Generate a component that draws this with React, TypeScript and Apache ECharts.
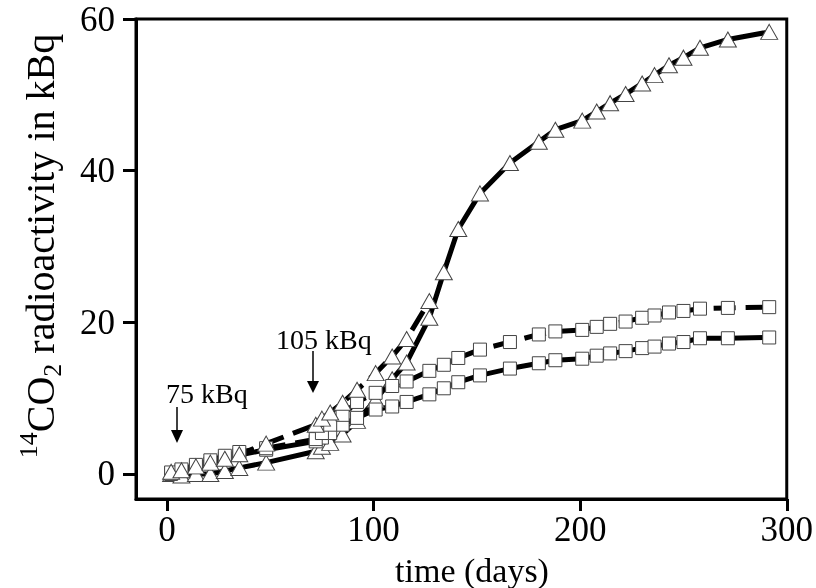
import React, { useEffect, useRef } from "react";
import * as echarts from "echarts";

// time (days) for square / solid-triangle series
const days = [
  2, 7, 14, 21, 28, 35, 48, 72, 75, 79, 85, 92, 101, 109, 116, 127, 134, 141, 151.5, 166, 180, 188, 201, 208,
  214.5, 222, 230, 236, 243, 250, 258, 271.5, 291.5,
];
// time (days) for dashed-triangle series
const daysT2 = [2, 7, 14, 21, 28, 35, 48, 72, 75, 79, 85, 92, 101, 109, 116, 127];

const squaresDashed = [
  0.2, 0.6, 1.2, 1.8, 2.4, 2.9, 3.4, 4.6, 5.4, 6.5, 7.8, 9.5, 10.7, 11.6, 12.2, 13.6, 14.4, 15.3, 16.4, 17.4, 18.4,
  18.8, 19.0, 19.4, 19.8, 20.1, 20.6, 20.9, 21.3, 21.5, 21.8, 21.9, 22.0,
];
const squaresSolid = [
  0.0, 0.4, 0.9, 1.4, 2.0, 2.5, 3.2, 4.3, 4.8, 5.4, 6.5, 7.4, 8.5, 8.9, 9.5, 10.5, 11.3, 12.1, 13.0, 13.9, 14.6,
  15.0, 15.2, 15.6, 15.9, 16.2, 16.6, 16.8, 17.2, 17.4, 17.9, 17.9, 18.0,
];
const trianglesSolid = [
  0.0, -0.2, 0.0, 0.0, 0.4, 0.8, 1.5, 3.0, 3.6, 4.1, 5.2, 7.0, 9.8, 12.5, 14.7, 20.6, 26.6, 32.3, 37.0, 41.0, 43.8,
  45.4, 46.6, 47.8, 48.9, 50.1, 51.5, 52.6, 53.9, 54.9, 56.2, 57.3, 58.3,
];
const trianglesDashed = [0.3, 0.5, 1.0, 1.5, 2.0, 2.6, 4.0, 6.5, 7.3, 8.1, 9.4, 11.1, 13.3, 15.5, 17.8, 22.8];

const xTicks = [0, 100, 200, 300];
const yTicks = [0, 20, 40, 60];

const FONT = "'Liberation Serif', 'DejaVu Serif', serif";

const zip = (xs: number[], ys: number[]) => ys.map((y, i) => [xs[i], y]);

export default function App() {
  const ref = useRef<HTMLDivElement>(null);
  useEffect(() => {
    if (!ref.current) return;
    const chart = echarts.init(ref.current, undefined, { renderer: "svg" });
    const markerStyle = { color: "#fff", borderColor: "#444", borderWidth: 1 };
    const lineSeries = (data: number[][], symbol: string, size: number[] | number, dashed: boolean) => ({
      type: "line",
      data,
      symbol,
      symbolSize: size,
      showAllSymbol: true,
      lineStyle: { color: "#000", width: 5, type: dashed ? [22, 10] : "solid" },
      itemStyle: markerStyle,
      emphasis: { disabled: true },
    });
    chart.setOption({
      animation: false,
      grid: { left: 136, right: 26, top: 19, bottom: 89, show: true, borderColor: "#000", borderWidth: 3 },
      xAxis: {
        type: "value",
        min: -15,
        max: 300,
        axisLine: { show: true, onZero: false, lineStyle: { color: "#000", width: 3 } },
        axisTick: { show: true, inside: false, length: 12, lineStyle: { color: "#000", width: 3 }, customValues: xTicks },
        axisLabel: { customValues: xTicks, color: "#000", fontSize: 35, fontFamily: FONT, margin: 13 },
        splitLine: { show: false },
      },
      yAxis: {
        type: "value",
        min: -3.3,
        max: 60,
        axisLine: { show: true, onZero: false, lineStyle: { color: "#000", width: 3 } },
        axisTick: { show: true, inside: false, length: 13, lineStyle: { color: "#000", width: 3 }, customValues: yTicks },
        axisLabel: { customValues: yTicks, color: "#000", fontSize: 35, fontFamily: FONT, margin: 21 },
        splitLine: { show: false },
      },
      series: [
        lineSeries(zip(days, trianglesSolid), "triangle", [17, 15], false),
        lineSeries(zip(days, squaresSolid), "rect", 13, false),
        lineSeries(zip(days, squaresDashed), "rect", 13, true),
        lineSeries(zip(daysT2, trianglesDashed), "triangle", [17, 15], true),
      ],
      graphic: [
        {
          type: "text",
          x: 40,
          y: 246,
          rotation: Math.PI / 2,
          style: {
            text: "{sup|14}{main|CO}{sub|2}{main| radioactivity in kBq}",
            align: "center",
            verticalAlign: "middle",
            fill: "#000",
            rich: {
              main: { fontSize: 40, fontFamily: FONT, fill: "#000", lineHeight: 50 },
              sup: { fontSize: 26, fontFamily: FONT, fill: "#000", verticalAlign: "top", lineHeight: 50 },
              sub: { fontSize: 26, fontFamily: FONT, fill: "#000", verticalAlign: "bottom", lineHeight: 50 },
            },
          },
        },
        {
          type: "text",
          x: 472,
          y: 570,
          style: { text: "time (days)", font: `34px ${FONT}`, fill: "#000", align: "center", verticalAlign: "middle" },
        },
        {
          type: "text",
          x: 166,
          y: 393,
          style: { text: "75 kBq", font: `28px ${FONT}`, fill: "#000", align: "left", verticalAlign: "middle" },
        },
        {
          type: "text",
          x: 276,
          y: 339,
          style: { text: "105 kBq", font: `28px ${FONT}`, fill: "#000", align: "left", verticalAlign: "middle" },
        },
        { type: "line", shape: { x1: 177, y1: 407, x2: 177, y2: 432 }, style: { stroke: "#000", lineWidth: 1.5 } },
        { type: "polygon", shape: { points: [[171, 430], [183, 430], [177, 443]] }, style: { fill: "#000" } },
        { type: "line", shape: { x1: 313, y1: 351, x2: 313, y2: 382 }, style: { stroke: "#000", lineWidth: 1.5 } },
        { type: "polygon", shape: { points: [[307, 381], [319, 381], [313, 393]] }, style: { fill: "#000" } },
      ],
    });
    return () => chart.dispose();
  }, []);
  return <div ref={ref} style={{ position: "fixed", left: 0, top: 0, width: 816, height: 588 }} />;
}
